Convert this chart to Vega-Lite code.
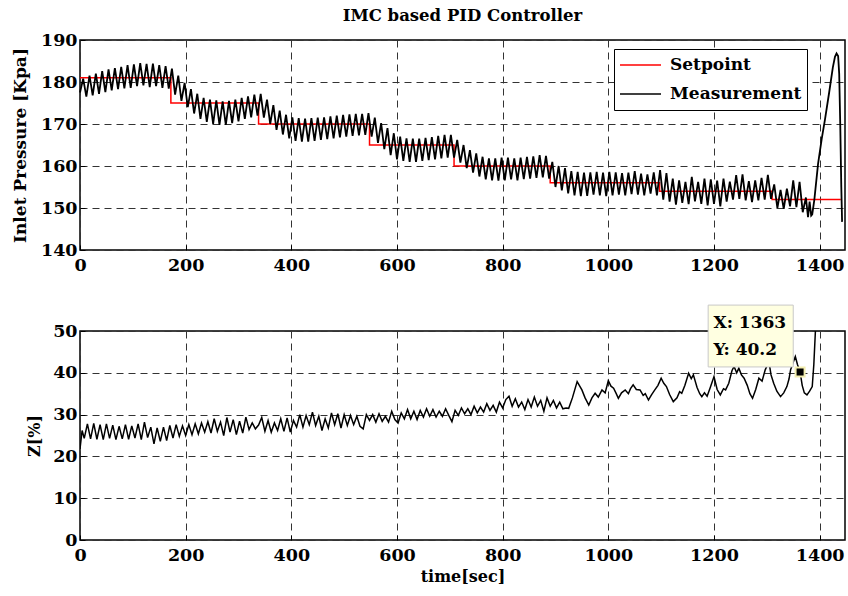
{
"$schema": "https://vega.github.io/schema/vega-lite/v6.json",
"background": "white",
"padding": {"left": 10, "top": 6, "right": 4, "bottom": 5},
"spacing": 81,
"bounds": "flush",
"config": {
  "view": {"stroke": "black", "strokeWidth": 1.5},
  "axis": {"labelFont": "DejaVu Serif", "labelFontWeight": "bold", "labelFontSize": 17.5, "labelColor": "black",
           "titleFont": "DejaVu Serif", "titleFontWeight": "bold", "titleFontSize": 16, "titleColor": "black",
           "domain": false, "grid": true, "gridDash": [7, 5], "gridColor": "#333", "gridWidth": 1,
           "ticks": true, "tickSize": -5, "tickColor": "black", "tickWidth": 1, "labelPadding": 8, "labelFlush": false, "labelOverlap": false, "format": "d"},
  "axisX": {"labelPadding": 11},
  "title": {"font": "DejaVu Serif", "fontWeight": "bold", "fontSize": 16.5, "color": "black"}
},
"datasets": {
  "sp": [{"t":0,"p":181},{"t":172,"p":175},{"t":338,"p":170},{"t":548,"p":165},{"t":708,"p":160},{"t":890,"p":156},{"t":1097,"p":154},{"t":1310,"p":152},{"t":1440,"p":152}],
  "meas": [
{"t":0,"p":177.5},{"t":6,"p":180.8},{"t":12,"p":176.5},{"t":18,"p":181.5},{"t":24,"p":176.8},{"t":30,"p":182.0},{"t":36,"p":177.2},{"t":42,"p":182.6},{"t":48,"p":177.6},{"t":54,"p":183.0},{"t":60,"p":178.0},{"t":66,"p":183.3},{"t":72,"p":178.3},{"t":78,"p":183.6},{"t":84,"p":178.5},{"t":90,"p":184.0},{"t":96,"p":178.6},{"t":102,"p":184.2},{"t":108,"p":179.0},{"t":114,"p":184.5},{"t":120,"p":179.2},{"t":126,"p":184.3},{"t":132,"p":178.8},{"t":138,"p":184.4},{"t":144,"p":179.0},{"t":150,"p":184.0},{"t":156,"p":178.6},{"t":162,"p":183.8},{"t":168,"p":178.4},{"t":174,"p":183.2},
{"t":180,"p":177.0},{"t":186,"p":181.5},{"t":192,"p":175.5},{"t":198,"p":179.8},{"t":204,"p":174.0},{"t":210,"p":178.3},{"t":216,"p":172.5},{"t":222,"p":177.2},{"t":228,"p":171.2},{"t":234,"p":176.2},{"t":240,"p":170.5},{"t":246,"p":175.8},{"t":252,"p":170.0},{"t":258,"p":175.6},{"t":264,"p":169.8},{"t":270,"p":175.4},{"t":276,"p":169.8},{"t":282,"p":175.5},{"t":288,"p":170.2},{"t":294,"p":175.8},{"t":300,"p":170.6},{"t":306,"p":176.2},{"t":312,"p":171.2},{"t":318,"p":176.6},{"t":324,"p":171.6},{"t":330,"p":177.0},{"t":336,"p":172.0},{"t":342,"p":177.2},
{"t":348,"p":171.5},{"t":354,"p":175.8},{"t":360,"p":170.0},{"t":366,"p":174.5},{"t":372,"p":168.6},{"t":378,"p":173.2},{"t":384,"p":167.5},{"t":390,"p":172.2},{"t":396,"p":166.6},{"t":402,"p":171.6},{"t":408,"p":166.0},{"t":414,"p":171.4},{"t":420,"p":165.8},{"t":426,"p":171.3},{"t":432,"p":165.8},{"t":438,"p":171.4},{"t":444,"p":166.0},{"t":450,"p":171.5},{"t":456,"p":166.2},{"t":462,"p":171.6},{"t":468,"p":166.4},{"t":474,"p":171.8},{"t":480,"p":166.6},{"t":486,"p":172.0},{"t":492,"p":166.8},{"t":498,"p":172.2},{"t":504,"p":167.0},{"t":510,"p":172.3},{"t":516,"p":167.2},{"t":522,"p":172.4},{"t":528,"p":167.3},{"t":534,"p":172.4},{"t":540,"p":167.4},{"t":546,"p":172.6},
{"t":552,"p":167.0},{"t":558,"p":171.5},{"t":564,"p":165.5},{"t":570,"p":170.2},{"t":576,"p":164.0},{"t":582,"p":169.0},{"t":588,"p":162.6},{"t":594,"p":167.8},{"t":600,"p":161.6},{"t":606,"p":167.0},{"t":612,"p":161.2},{"t":618,"p":166.6},{"t":624,"p":161.0},{"t":630,"p":166.5},{"t":636,"p":161.0},{"t":642,"p":166.5},{"t":648,"p":161.2},{"t":654,"p":166.7},{"t":660,"p":161.4},{"t":666,"p":166.9},{"t":672,"p":161.6},{"t":678,"p":167.2},{"t":684,"p":161.8},{"t":690,"p":167.4},{"t":696,"p":162.0},{"t":702,"p":167.4},{"t":708,"p":162.0},
{"t":714,"p":166.2},{"t":720,"p":160.8},{"t":726,"p":165.0},{"t":732,"p":159.5},{"t":738,"p":163.8},{"t":744,"p":158.4},{"t":750,"p":163.0},{"t":756,"p":157.5},{"t":762,"p":162.2},{"t":768,"p":156.8},{"t":774,"p":161.8},{"t":780,"p":156.6},{"t":786,"p":161.8},{"t":792,"p":156.5},{"t":798,"p":162.0},{"t":804,"p":156.6},{"t":810,"p":162.0},{"t":816,"p":156.8},{"t":822,"p":161.8},{"t":828,"p":156.6},{"t":834,"p":162.0},{"t":840,"p":156.9},{"t":846,"p":162.2},{"t":852,"p":157.0},{"t":858,"p":162.3},{"t":864,"p":157.2},{"t":870,"p":162.6},{"t":876,"p":157.3},{"t":882,"p":162.4},{"t":888,"p":157.0},
{"t":894,"p":161.0},{"t":900,"p":155.0},{"t":906,"p":160.0},{"t":912,"p":154.2},{"t":918,"p":159.5},{"t":924,"p":153.5},{"t":930,"p":158.8},{"t":936,"p":153.0},{"t":942,"p":158.6},{"t":948,"p":152.8},{"t":954,"p":158.4},{"t":960,"p":152.9},{"t":966,"p":158.5},{"t":972,"p":153.2},{"t":978,"p":158.6},{"t":984,"p":153.0},{"t":990,"p":158.4},{"t":996,"p":152.8},{"t":1002,"p":158.6},{"t":1008,"p":153.0},{"t":1014,"p":158.5},{"t":1020,"p":153.2},{"t":1026,"p":158.3},{"t":1032,"p":153.0},{"t":1038,"p":158.4},{"t":1044,"p":153.3},{"t":1050,"p":158.8},{"t":1056,"p":153.2},{"t":1062,"p":158.2},{"t":1068,"p":153.0},{"t":1074,"p":158.0},{"t":1080,"p":153.4},{"t":1086,"p":158.5},{"t":1092,"p":153.0},{"t":1098,"p":159.0},
{"t":1104,"p":152.0},{"t":1110,"p":158.3},{"t":1116,"p":151.5},{"t":1122,"p":157.0},{"t":1128,"p":150.8},{"t":1134,"p":156.6},{"t":1140,"p":151.2},{"t":1146,"p":156.2},{"t":1152,"p":150.9},{"t":1158,"p":157.4},{"t":1164,"p":151.6},{"t":1170,"p":156.2},{"t":1176,"p":151.0},{"t":1182,"p":157.0},{"t":1188,"p":150.6},{"t":1194,"p":156.8},{"t":1200,"p":151.0},{"t":1206,"p":156.5},{"t":1212,"p":150.4},{"t":1218,"p":157.0},{"t":1224,"p":151.5},{"t":1230,"p":156.3},{"t":1236,"p":152.0},{"t":1242,"p":157.8},{"t":1248,"p":152.2},{"t":1254,"p":158.0},{"t":1260,"p":151.8},{"t":1266,"p":156.4},{"t":1272,"p":151.4},{"t":1278,"p":156.6},{"t":1284,"p":151.8},{"t":1290,"p":157.2},{"t":1296,"p":152.0},{"t":1302,"p":157.9},{"t":1308,"p":152.2},
{"t":1314,"p":155.6},{"t":1320,"p":150.0},{"t":1326,"p":154.3},{"t":1332,"p":149.8},{"t":1338,"p":154.6},{"t":1344,"p":150.4},{"t":1350,"p":156.6},{"t":1356,"p":150.2},{"t":1362,"p":156.2},{"t":1368,"p":149.0},{"t":1374,"p":152.5},{"t":1378,"p":147.8},{"t":1381,"p":151.5},{"t":1384,"p":148.2},
{"t":1386,"p":148.5},{"t":1390,"p":152.0},{"t":1397,"p":160.5},{"t":1404,"p":166.5},{"t":1410,"p":171.0},{"t":1418,"p":177.5},{"t":1425,"p":183.5},{"t":1429,"p":186.0},{"t":1432,"p":186.8},{"t":1435,"p":186.2},{"t":1437,"p":182.0},{"t":1439,"p":170.0},{"t":1441,"p":155.0},{"t":1442.5,"p":146.7}
  ],
  "z": [
{"t":0,"z":21.8},{"t":4,"z":26.2},{"t":8,"z":24.3},{"t":14,"z":27.8},{"t":20,"z":24.2},{"t":26,"z":27.9},{"t":32,"z":24.1},{"t":38,"z":27.6},{"t":44,"z":24.0},{"t":50,"z":27.8},{"t":56,"z":24.3},{"t":62,"z":27.5},{"t":68,"z":24.0},{"t":74,"z":27.2},{"t":80,"z":24.2},{"t":86,"z":27.6},{"t":92,"z":24.1},{"t":98,"z":27.3},{"t":104,"z":24.4},{"t":110,"z":27.8},{"t":116,"z":24.0},{"t":122,"z":28.2},{"t":128,"z":24.5},{"t":134,"z":27.0},{"t":140,"z":23.0},{"t":146,"z":26.8},{"t":152,"z":23.6},{"t":158,"z":27.0},{"t":164,"z":23.8},{"t":170,"z":27.4},{"t":176,"z":24.4},{"t":182,"z":27.6},{"t":188,"z":24.8},{"t":194,"z":27.3},{"t":200,"z":25.0},
{"t":206,"z":27.6},{"t":212,"z":25.2},{"t":218,"z":27.8},{"t":224,"z":25.4},{"t":230,"z":28.0},{"t":236,"z":25.8},{"t":242,"z":28.3},{"t":248,"z":25.6},{"t":254,"z":29.0},{"t":260,"z":26.0},{"t":266,"z":28.2},{"t":272,"z":25.0},{"t":278,"z":29.3},{"t":284,"z":25.8},{"t":290,"z":28.8},{"t":296,"z":25.2},{"t":302,"z":28.4},{"t":308,"z":25.6},{"t":314,"z":29.4},{"t":320,"z":26.4},{"t":326,"z":28.0},{"t":332,"z":26.6},{"t":338,"z":27.5},{"t":344,"z":29.3},{"t":350,"z":26.0},{"t":356,"z":28.6},{"t":362,"z":25.8},{"t":368,"z":28.0},{"t":374,"z":26.2},{"t":380,"z":29.0},{"t":386,"z":26.0},{"t":392,"z":29.2},{"t":398,"z":25.8},
{"t":404,"z":28.6},{"t":410,"z":27.0},{"t":416,"z":30.0},{"t":422,"z":27.0},{"t":428,"z":29.8},{"t":434,"z":27.6},{"t":440,"z":30.6},{"t":446,"z":27.4},{"t":452,"z":29.6},{"t":458,"z":26.2},{"t":464,"z":29.0},{"t":470,"z":26.8},{"t":476,"z":30.4},{"t":482,"z":27.6},{"t":488,"z":30.2},{"t":494,"z":26.8},{"t":500,"z":30.0},{"t":506,"z":27.4},{"t":512,"z":29.8},{"t":518,"z":27.6},{"t":524,"z":29.6},{"t":530,"z":27.2},{"t":536,"z":26.6},{"t":542,"z":30.0},{"t":548,"z":28.6},{"t":554,"z":30.0},{"t":560,"z":28.2},{"t":566,"z":30.2},{"t":572,"z":28.4},{"t":578,"z":29.6},{"t":584,"z":28.2},{"t":590,"z":30.8},{"t":596,"z":28.8},
{"t":602,"z":28.0},{"t":608,"z":30.4},{"t":614,"z":29.0},{"t":620,"z":31.2},{"t":626,"z":29.0},{"t":632,"z":30.8},{"t":638,"z":28.8},{"t":644,"z":31.0},{"t":650,"z":29.4},{"t":656,"z":31.4},{"t":662,"z":29.6},{"t":668,"z":31.2},{"t":674,"z":29.4},{"t":680,"z":30.8},{"t":686,"z":29.6},{"t":692,"z":31.4},{"t":698,"z":29.8},{"t":704,"z":28.3},{"t":710,"z":31.0},{"t":716,"z":29.8},{"t":722,"z":31.6},{"t":728,"z":30.2},{"t":734,"z":31.4},{"t":740,"z":30.0},{"t":746,"z":32.0},{"t":752,"z":30.4},{"t":758,"z":31.8},{"t":764,"z":30.6},{"t":770,"z":32.6},{"t":776,"z":31.0},{"t":782,"z":32.2},{"t":788,"z":30.6},{"t":794,"z":33.0},
{"t":800,"z":31.6},{"t":806,"z":33.6},{"t":812,"z":34.4},{"t":818,"z":32.0},{"t":824,"z":33.8},{"t":830,"z":31.8},{"t":836,"z":33.0},{"t":842,"z":31.2},{"t":848,"z":33.6},{"t":854,"z":31.8},{"t":860,"z":34.2},{"t":866,"z":32.0},{"t":872,"z":33.4},{"t":878,"z":30.8},{"t":884,"z":34.0},{"t":890,"z":32.0},{"t":896,"z":33.4},{"t":902,"z":31.6},{"t":908,"z":33.0},{"t":914,"z":31.4},{"t":920,"z":31.6},
{"t":925,"z":31.5},{"t":932,"z":34.0},{"t":941,"z":37.9},{"t":950,"z":35.9},{"t":956,"z":34.0},{"t":963,"z":32.3},{"t":969,"z":34.0},{"t":975,"z":35.1},{"t":981,"z":34.2},{"t":988,"z":35.9},{"t":994,"z":35.2},{"t":1000,"z":38.1},{"t":1005,"z":36.8},{"t":1010,"z":36.3},{"t":1015,"z":35.0},{"t":1019,"z":33.9},{"t":1025,"z":35.2},{"t":1032,"z":35.9},{"t":1038,"z":35.0},{"t":1042,"z":36.2},{"t":1047,"z":37.1},{"t":1053,"z":36.0},{"t":1060,"z":35.9},{"t":1066,"z":34.6},{"t":1070,"z":35.0},{"t":1076,"z":33.5},{"t":1082,"z":34.8},{"t":1088,"z":35.9},{"t":1094,"z":37.0},{"t":1100,"z":38.7},{"t":1105,"z":37.5},{"t":1110,"z":36.7},{"t":1116,"z":34.8},{"t":1123,"z":33.1},{"t":1130,"z":34.0},{"t":1135,"z":35.5},{"t":1139,"z":35.1},{"t":1145,"z":37.0},{"t":1152,"z":39.9},{"t":1157,"z":38.6},{"t":1161,"z":39.5},{"t":1168,"z":36.5},{"t":1173,"z":35.0},{"t":1177,"z":34.3},{"t":1182,"z":35.2},{"t":1187,"z":34.4},{"t":1193,"z":36.5},{"t":1200,"z":39.1},{"t":1206,"z":36.0},{"t":1212,"z":34.7},{"t":1218,"z":36.2},{"t":1222,"z":35.9},{"t":1228,"z":37.5},{"t":1234,"z":40.5},{"t":1238,"z":41.5},{"t":1243,"z":40.0},{"t":1247,"z":41.1},{"t":1252,"z":39.5},{"t":1257,"z":38.7},{"t":1263,"z":37.0},{"t":1268,"z":35.0},{"t":1273,"z":33.9},{"t":1279,"z":36.0},{"t":1285,"z":38.7},{"t":1291,"z":38.0},{"t":1297,"z":40.7},{"t":1304,"z":42.7},{"t":1308,"z":39.5},{"t":1313,"z":37.5},{"t":1319,"z":35.6},{"t":1326,"z":34.3},{"t":1332,"z":35.2},{"t":1338,"z":36.7},{"t":1342,"z":38.5},{"t":1345,"z":40.7},{"t":1350,"z":42.5},{"t":1354,"z":43.9},{"t":1358,"z":42.0},{"t":1363,"z":40.2},{"t":1367,"z":37.0},{"t":1371,"z":35.2},{"t":1376,"z":34.7},{"t":1381,"z":35.6},{"t":1386,"z":36.7},{"t":1389,"z":42.0},{"t":1392,"z":50.0},{"t":1395,"z":58.0}
  ],
  "tip": [{"t":1199,"z":51.9,"label":"X: 1363"},{"t":1199,"z":45.5,"label":"Y: 40.2"}],
  "mark": [{"t":1363,"z":40.2}]
},
"vconcat": [
  {
    "width": 765, "height": 210,
    "title": {"text": "IMC based PID Controller", "anchor": "middle", "frame": "group", "offset": 7},
    "layer": [
      {
        "data": {"name": "sp"},
        "mark": {"type": "line", "interpolate": "step-after", "strokeWidth": 1.5},
        "encoding": {
          "x": {"field": "t", "type": "quantitative", "scale": {"domain": [0, 1448], "nice": false}, "axis": {"values": [0,200,400,600,800,1000,1200,1400], "title": null}},
          "y": {"field": "p", "type": "quantitative", "scale": {"domain": [140, 190], "nice": false}, "axis": {"values": [140,150,160,170,180,190], "title": "Inlet Pressure [Kpa]", "titleFontSize": 17, "titlePadding": 11}},
          "color": {"datum": "Setpoint", "type": "nominal", "scale": {"domain": ["Setpoint", "Measurement"], "range": ["#ff0000", "#000000"]},
            "legend": {"orient": "none", "legendX": 534, "legendY": 9, "title": null, "strokeColor": "black", "fillColor": "white", "padding": 5,
              "symbolType": "stroke", "symbolSize": 1681, "symbolStrokeWidth": 1.5, "clipHeight": 22, "labelFont": "DejaVu Serif", "labelFontWeight": "bold", "labelFontSize": 17, "labelColor": "black", "labelOffset": 8, "labelLimit": 300, "rowPadding": 7}}
        }
      },
      {
        "data": {"name": "meas"},
        "mark": {"type": "line", "strokeWidth": 1.8},
        "encoding": {
          "x": {"field": "t", "type": "quantitative"},
          "y": {"field": "p", "type": "quantitative"},
          "color": {"datum": "Measurement", "type": "nominal"}
        }
      }
    ]
  },
  {
    "width": 765, "height": 209,
    "layer": [
      {
        "data": {"name": "z"},
        "mark": {"type": "line", "strokeWidth": 1.5, "color": "black", "clip": true},
        "encoding": {
          "x": {"field": "t", "type": "quantitative", "scale": {"domain": [0, 1448], "nice": false}, "axis": {"values": [0,200,400,600,800,1000,1200,1400], "title": "time[sec]", "titlePadding": 5}},
          "y": {"field": "z", "type": "quantitative", "scale": {"domain": [0, 50], "nice": false}, "axis": {"values": [0,10,20,30,40,50], "title": "Z[%]", "titlePadding": 10}}
        }
      },
      {
        "data": {"values": [{}]},
        "mark": {"type": "rect", "fill": "#ffffe1", "stroke": "#c8c8c8", "strokeWidth": 1, "clip": false},
        "encoding": {
          "x": {"datum": 1189, "type": "quantitative"},
          "x2": {"datum": 1350},
          "y": {"datum": 56.2, "type": "quantitative"},
          "y2": {"datum": 41.4}
        }
      },
      {
        "data": {"name": "tip"},
        "mark": {"type": "text", "align": "left", "baseline": "middle", "font": "DejaVu Serif", "fontWeight": "bold", "fontSize": 17, "color": "black", "clip": false},
        "encoding": {
          "x": {"field": "t", "type": "quantitative"},
          "y": {"field": "z", "type": "quantitative"},
          "text": {"field": "label"}
        }
      },
      {
        "data": {"name": "mark"},
        "mark": {"type": "square", "filled": true, "color": "black", "size": 81, "stroke": "#f3eeb0", "strokeWidth": 2, "opacity": 1},
        "encoding": {
          "x": {"field": "t", "type": "quantitative"},
          "y": {"field": "z", "type": "quantitative"}
        }
      }
    ]
  }
]
}
